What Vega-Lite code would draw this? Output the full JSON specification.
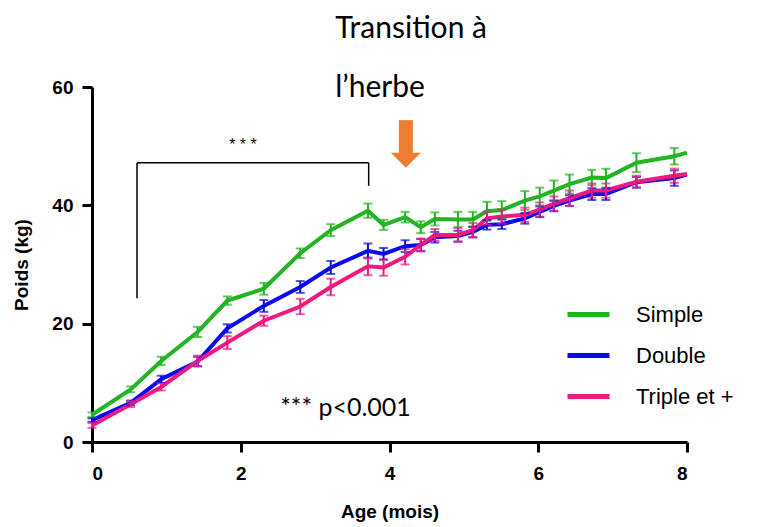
{
  "$schema": "https://vega.github.io/schema/vega-lite/v6.json",
  "width": 595,
  "height": 355,
  "autosize": {"type": "none"},
  "padding": {"left": 92, "top": 87, "right": 85, "bottom": 85},
  "background": "white",
  "config": {
    "view": {"stroke": null},
    "font": "Arial",
    "axis": {
      "domainColor": "black", "domainWidth": 3, "tickColor": "black", "tickWidth": 3, "tickSize": 10,
      "labelColor": "black", "titleColor": "black", "labelFont": "Arial", "titleFont": "Arial",
      "labelFontWeight": "bold", "titleFontWeight": "bold", "labelFontSize": 19, "titleFontSize": 19, "grid": false
    }
  },
  "datasets": {
    "series": [
      {"group": "Simple", "age": 0, "mean": 4.6, "err": 0.4},
      {"group": "Simple", "age": 0.52, "mean": 8.9, "err": 0.5},
      {"group": "Simple", "age": 0.93, "mean": 13.7, "err": 0.7},
      {"group": "Simple", "age": 1.42, "mean": 18.6, "err": 0.85},
      {"group": "Simple", "age": 1.82, "mean": 23.9, "err": 0.7},
      {"group": "Simple", "age": 2.31, "mean": 25.9, "err": 1.0},
      {"group": "Simple", "age": 2.8, "mean": 31.9, "err": 0.8},
      {"group": "Simple", "age": 3.21, "mean": 35.8, "err": 1.0},
      {"group": "Simple", "age": 3.71, "mean": 39.1, "err": 1.2},
      {"group": "Simple", "age": 3.92, "mean": 36.7, "err": 0.85},
      {"group": "Simple", "age": 4.21, "mean": 38.0, "err": 0.9},
      {"group": "Simple", "age": 4.42, "mean": 36.3, "err": 1.0},
      {"group": "Simple", "age": 4.61, "mean": 37.7, "err": 1.1},
      {"group": "Simple", "age": 4.92, "mean": 37.6, "err": 1.3},
      {"group": "Simple", "age": 5.12, "mean": 37.6, "err": 1.3},
      {"group": "Simple", "age": 5.31, "mean": 39.0, "err": 1.6},
      {"group": "Simple", "age": 5.51, "mean": 39.2, "err": 1.5},
      {"group": "Simple", "age": 5.82, "mean": 40.8, "err": 1.6},
      {"group": "Simple", "age": 6.02, "mean": 41.5, "err": 1.5},
      {"group": "Simple", "age": 6.21, "mean": 42.5, "err": 1.7},
      {"group": "Simple", "age": 6.42, "mean": 43.6, "err": 1.6},
      {"group": "Simple", "age": 6.72, "mean": 44.7, "err": 1.3},
      {"group": "Simple", "age": 6.91, "mean": 44.6, "err": 1.6},
      {"group": "Simple", "age": 7.32, "mean": 47.2, "err": 1.6},
      {"group": "Simple", "age": 7.83, "mean": 48.3, "err": 1.4},
      {"group": "Simple", "age": 8.0, "mean": 48.9, "err": 0},
      {"group": "Double", "age": 0, "mean": 3.7, "err": 0.3},
      {"group": "Double", "age": 0.52, "mean": 6.6, "err": 0.4},
      {"group": "Double", "age": 0.93, "mean": 10.6, "err": 0.6},
      {"group": "Double", "age": 1.42, "mean": 13.6, "err": 0.8},
      {"group": "Double", "age": 1.82, "mean": 19.2, "err": 0.7},
      {"group": "Double", "age": 2.31, "mean": 23.0, "err": 1.0},
      {"group": "Double", "age": 2.8, "mean": 26.2, "err": 1.0},
      {"group": "Double", "age": 3.21, "mean": 29.5, "err": 1.1},
      {"group": "Double", "age": 3.71, "mean": 32.3, "err": 1.25},
      {"group": "Double", "age": 3.92, "mean": 31.8, "err": 1.0},
      {"group": "Double", "age": 4.21, "mean": 33.1, "err": 1.0},
      {"group": "Double", "age": 4.42, "mean": 33.3, "err": 1.0},
      {"group": "Double", "age": 4.61, "mean": 34.6, "err": 0.9},
      {"group": "Double", "age": 4.92, "mean": 34.8, "err": 0.9},
      {"group": "Double", "age": 5.12, "mean": 35.5, "err": 0.9},
      {"group": "Double", "age": 5.31, "mean": 36.7, "err": 0.8},
      {"group": "Double", "age": 5.51, "mean": 36.8, "err": 0.8},
      {"group": "Double", "age": 5.82, "mean": 37.8, "err": 0.9},
      {"group": "Double", "age": 6.02, "mean": 38.9, "err": 0.9},
      {"group": "Double", "age": 6.21, "mean": 39.9, "err": 0.9},
      {"group": "Double", "age": 6.42, "mean": 40.8, "err": 0.9},
      {"group": "Double", "age": 6.72, "mean": 41.9, "err": 1.0},
      {"group": "Double", "age": 6.91, "mean": 41.9, "err": 1.0},
      {"group": "Double", "age": 7.32, "mean": 43.9, "err": 0.9},
      {"group": "Double", "age": 7.83, "mean": 44.6, "err": 1.3},
      {"group": "Double", "age": 8.0, "mean": 45.2, "err": 0},
      {"group": "Triple et +", "age": 0, "mean": 2.8, "err": 0.4},
      {"group": "Triple et +", "age": 0.52, "mean": 6.4, "err": 0.5},
      {"group": "Triple et +", "age": 0.93, "mean": 9.3, "err": 0.6},
      {"group": "Triple et +", "age": 1.42, "mean": 13.7, "err": 0.9},
      {"group": "Triple et +", "age": 1.82, "mean": 16.8, "err": 1.1},
      {"group": "Triple et +", "age": 2.31, "mean": 20.5, "err": 0.85},
      {"group": "Triple et +", "age": 2.8, "mean": 22.9, "err": 1.3},
      {"group": "Triple et +", "age": 3.21, "mean": 26.2, "err": 1.4},
      {"group": "Triple et +", "age": 3.71, "mean": 29.7, "err": 1.5},
      {"group": "Triple et +", "age": 3.92, "mean": 29.5, "err": 1.4},
      {"group": "Triple et +", "age": 4.21, "mean": 31.3, "err": 1.3},
      {"group": "Triple et +", "age": 4.42, "mean": 33.3, "err": 1.1},
      {"group": "Triple et +", "age": 4.61, "mean": 35.0, "err": 1.0},
      {"group": "Triple et +", "age": 4.92, "mean": 35.0, "err": 1.2},
      {"group": "Triple et +", "age": 5.12, "mean": 35.8, "err": 1.2},
      {"group": "Triple et +", "age": 5.31, "mean": 37.8, "err": 1.1},
      {"group": "Triple et +", "age": 5.51, "mean": 38.1, "err": 1.2},
      {"group": "Triple et +", "age": 5.82, "mean": 38.4, "err": 1.2},
      {"group": "Triple et +", "age": 6.02, "mean": 39.3, "err": 1.2},
      {"group": "Triple et +", "age": 6.21, "mean": 40.3, "err": 1.2},
      {"group": "Triple et +", "age": 6.42, "mean": 41.2, "err": 1.3},
      {"group": "Triple et +", "age": 6.72, "mean": 42.5, "err": 1.2},
      {"group": "Triple et +", "age": 6.91, "mean": 42.5, "err": 1.2},
      {"group": "Triple et +", "age": 7.32, "mean": 44.0, "err": 1.0},
      {"group": "Triple et +", "age": 7.83, "mean": 45.0, "err": 1.2},
      {"group": "Triple et +", "age": 8.0, "mean": 45.3, "err": 0}
    ]
  },
  "layer": [
    {
      "data": {"name": "series"},
      "mark": {"type": "line", "strokeWidth": 4},
      "encoding": {
        "x": {"field": "age", "type": "quantitative", "scale": {"domain": [0, 8], "nice": false},
              "axis": {"values": [0, 2, 4, 6, 8], "format": "d", "title": "Age (mois)", "labelPadding": 12, "titlePadding": 19,
                       "labelFont": "Arial", "labelFontSize": 19, "labelFontWeight": "bold", "titleFont": "Arial", "titleFontSize": 19, "titleFontWeight": "bold"}},
        "y": {"field": "mean", "type": "quantitative", "scale": {"domain": [0, 60], "nice": false},
              "axis": {"values": [0, 20, 40, 60], "format": "d", "title": "Poids (kg)", "labelPadding": 9, "titlePadding": 20,
                       "labelFont": "Arial", "labelFontSize": 19, "labelFontWeight": "bold", "titleFont": "Arial", "titleFontSize": 19, "titleFontWeight": "bold"}},
        "color": {"field": "group", "type": "nominal",
                  "scale": {"domain": ["Simple", "Double", "Triple et +"], "range": ["#22B422", "#0A0AF0", "#F0197D"]},
                  "legend": {"orient": "none", "legendX": 473, "legendY": 204, "title": null, "symbolType": "stroke",
                             "symbolStrokeWidth": 5, "symbolSize": 1764, "labelFontSize": 22, "labelFont": "Arial",
                             "labelColor": "black", "labelOffset": 24, "rowPadding": 6, "padding": 0}}
      }
    },
    {
      "data": {"name": "series"},
      "transform": [{"filter": "datum.err > 0"}],
      "mark": {"type": "errorbar", "ticks": {"size": 9, "thickness": 2}, "thickness": 2},
      "encoding": {
        "x": {"field": "age", "type": "quantitative", "scale": {"domain": [0, 8], "nice": false}, "title": "Age (mois)"},
        "y": {"field": "mean", "type": "quantitative", "scale": {"domain": [0, 60], "nice": false}, "title": "Poids (kg)"},
        "yError": {"field": "err"},
        "color": {"field": "group", "type": "nominal", "legend": null}
      }
    },
    {
      "data": {"values": [
        {"x": 0.605, "x2": 0.605, "y": 24.3, "y2": 47.2},
        {"x": 0.605, "x2": 3.72, "y": 47.2, "y2": 47.2},
        {"x": 3.72, "x2": 3.72, "y": 47.2, "y2": 43.3}
      ]},
      "mark": {"type": "rule", "color": "black", "strokeWidth": 1.5},
      "encoding": {
        "x": {"field": "x", "type": "quantitative", "scale": {"domain": [0, 8], "nice": false}, "title": "Age (mois)"},
        "x2": {"field": "x2"},
        "y": {"field": "y", "type": "quantitative", "scale": {"domain": [0, 60], "nice": false}, "title": "Poids (kg)"},
        "y2": {"field": "y2"}
      }
    },
    {
      "data": {"values": [{"x": 4.22, "y": 54.4, "y2": 48.6}]},
      "mark": {"type": "rule", "color": "#ED7D31", "strokeWidth": 14, "strokeCap": "butt"},
      "encoding": {
        "x": {"field": "x", "type": "quantitative", "scale": {"domain": [0, 8], "nice": false}, "title": "Age (mois)"},
        "y": {"field": "y", "type": "quantitative", "scale": {"domain": [0, 60], "nice": false}, "title": "Poids (kg)"},
        "y2": {"field": "y2"}
      }
    },
    {
      "data": {"values": [{"x": 4.22, "y": 47.6}]},
      "mark": {"type": "point", "shape": "M-1,-0.5L1,-0.5L0,0.5Z", "size": 900, "filled": true, "color": "#ED7D31", "opacity": 1, "strokeWidth": 0},
      "encoding": {
        "x": {"field": "x", "type": "quantitative", "scale": {"domain": [0, 8], "nice": false}, "title": "Age (mois)"},
        "y": {"field": "y", "type": "quantitative", "scale": {"domain": [0, 60], "nice": false}, "title": "Poids (kg)"}
      }
    },
    {
      "data": {"values": [
        {"x": 3.27, "y": 68.3, "label": "Transition à"},
        {"x": 3.27, "y": 58.3, "label": "l’herbe"}
      ]},
      "mark": {"type": "text", "font": "Lato", "fontSize": 30, "align": "left", "baseline": "alphabetic", "color": "black"},
      "encoding": {
        "x": {"field": "x", "type": "quantitative", "scale": {"domain": [0, 8], "nice": false}, "title": "Age (mois)"},
        "y": {"field": "y", "type": "quantitative", "scale": {"domain": [0, 60], "nice": false}, "title": "Poids (kg)"},
        "text": {"field": "label"}
      }
    },
    {
      "data": {"values": [{"x": 2.53, "y": 4.4, "label": "*** p<0.001"}]},
      "mark": {"type": "text", "font": "Lato", "fontSize": 25, "align": "left", "baseline": "alphabetic", "color": "black"},
      "encoding": {
        "x": {"field": "x", "type": "quantitative", "scale": {"domain": [0, 8], "nice": false}, "title": "Age (mois)"},
        "y": {"field": "y", "type": "quantitative", "scale": {"domain": [0, 60], "nice": false}, "title": "Poids (kg)"},
        "text": {"field": "label"}
      }
    },
    {
      "data": {"values": [{"x": 2.03, "y": 49.3, "label": "* * *"}]},
      "mark": {"type": "text", "font": "Arial", "fontSize": 16, "align": "center", "baseline": "alphabetic", "color": "black"},
      "encoding": {
        "x": {"field": "x", "type": "quantitative", "scale": {"domain": [0, 8], "nice": false}, "title": "Age (mois)"},
        "y": {"field": "y", "type": "quantitative", "scale": {"domain": [0, 60], "nice": false}, "title": "Poids (kg)"},
        "text": {"field": "label"}
      }
    }
  ]
}
